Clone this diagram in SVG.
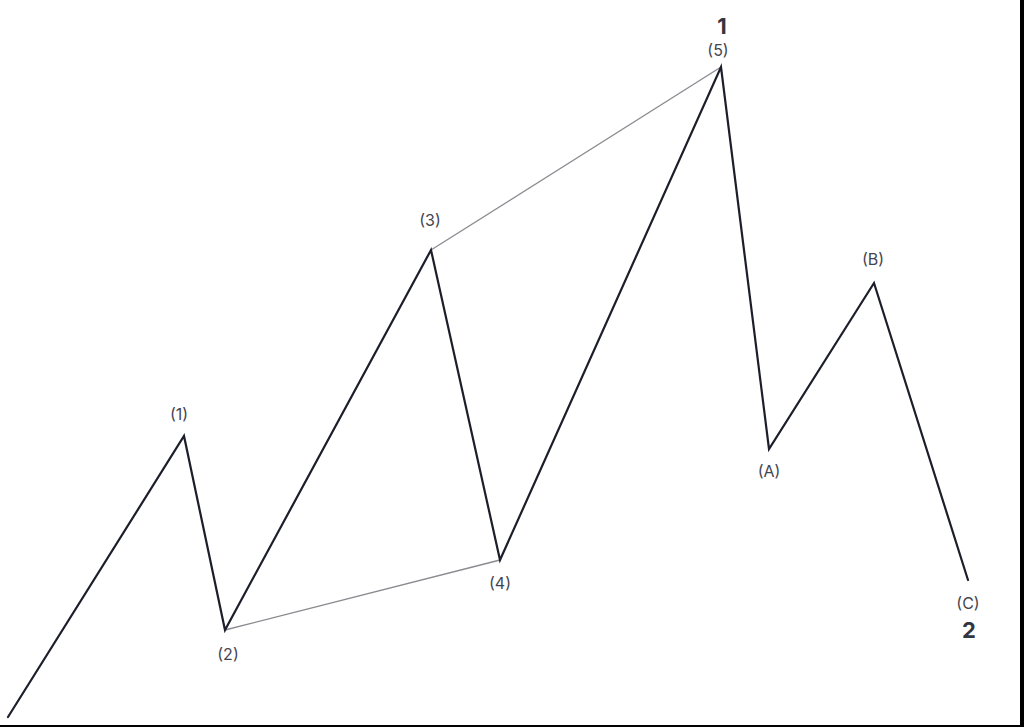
<svg xmlns="http://www.w3.org/2000/svg" width="1024" height="727" viewBox="0 0 1024 727">
<style>
.w{fill:none;stroke:#1c1e2a;stroke-width:2.2;stroke-linejoin:miter;stroke-linecap:round}
.c{fill:none;stroke:#8a8a90;stroke-width:1.3}
.l{font-family:"Inter","Liberation Sans",sans-serif;font-size:16px;fill:#44464f;text-anchor:middle}
.b{font-family:"Inter","Liberation Sans",sans-serif;font-size:22px;font-weight:bold;fill:#33353f;text-anchor:middle}
</style>
<rect width="1024" height="727" fill="#ffffff"/>
<g id="connectors">
<line class="c" x1="225" y1="630" x2="500" y2="560"/>
<line class="c" x1="431" y1="250" x2="721" y2="67"/>
<polyline class="w" points="8,717 184,436 225,630 431,250 500,560 721,67 769,449 874,283 968,580"/>
</g>
<g id="n1"><text class="l" x="179" y="420">(1)</text></g>
<g id="n2"><text class="l" x="228" y="660">(2)</text></g>
<g id="n3"><text class="l" x="430" y="226">(3)</text></g>
<g id="n4"><text class="l" x="500" y="589">(4)</text></g>
<g id="n5"><text class="l" x="718" y="56">(5)</text><text class="b" x="722" y="34">1</text></g>
<g id="nA"><text class="l" x="769" y="477">(A)</text></g>
<g id="nB"><text class="l" x="873" y="265">(B)</text></g>
<g id="nC"><text class="l" x="968" y="609">(C)</text><text class="b" x="969" y="638">2</text></g>
<rect x="1020" y="0" width="4" height="727" fill="#000"/>
<rect x="0" y="725" width="1024" height="2" fill="#000"/>
</svg>
